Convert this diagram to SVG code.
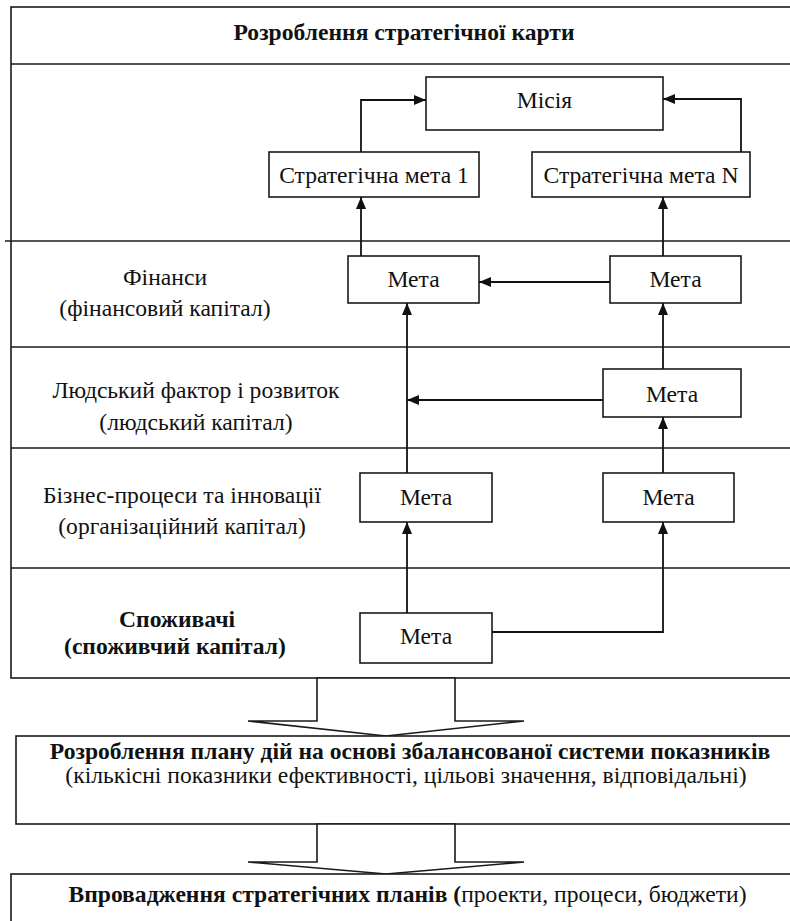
<svg xmlns="http://www.w3.org/2000/svg" width="790" height="921" viewBox="0 0 790 921" font-family="'Liberation Serif', 'DejaVu Serif', serif">
<defs>
<marker id="ah" viewBox="0 0 12 10" refX="12" refY="5" markerWidth="12" markerHeight="10" markerUnits="userSpaceOnUse" orient="auto">
<path d="M0,0 L12,5 L0,10 Z" fill="#111"/>
</marker>
<style>
.ln{fill:none;stroke:#1a1a1a;stroke-width:1.6}
.bx{fill:#fff;stroke:#1a1a1a;stroke-width:1.6}
.t{font-family:'Liberation Serif','DejaVu Serif',serif;font-size:23.6px;fill:#111;text-anchor:middle}
.b{font-weight:bold}
.c{fill:none;stroke:#111;stroke-width:1.8;marker-end:url(#ah)}
</style>
</defs>
<rect width="790" height="921" fill="#fff"/>

<g id="frame">
<rect class="ln" x="11" y="7" width="800" height="671"/>
<line class="ln" x1="11" y1="64" x2="800" y2="64"/>
<line class="ln" x1="5" y1="241" x2="800" y2="241"/>
<line class="ln" x1="11" y1="347" x2="800" y2="347"/>
<line class="ln" x1="11" y1="448" x2="800" y2="448"/>
<line class="ln" x1="11" y1="568" x2="800" y2="568"/>
<text class="t b" x="404" y="40">Розроблення стратегічної карти</text>
</g>

<g id="row-finance">
<text class="t" x="165" y="285">Фінанси</text>
<text class="t" x="165" y="316">(фінансовий капітал)</text>
</g>
<g id="row-human">
<text class="t" x="196" y="398">Людський фактор і розвиток</text>
<text class="t" x="196" y="430">(людський капітал)</text>
</g>
<g id="row-business">
<text class="t" x="182" y="503">Бізнес-процеси та інновації</text>
<text class="t" x="182" y="534">(організаційний капітал)</text>
</g>
<g id="row-consumers">
<text class="t b" x="177" y="627">Споживачі</text>
<text class="t b" x="175" y="654">(споживчий капітал)</text>
</g>

<g id="mission">
<rect class="bx" x="426" y="77" width="237" height="53"/>
<text class="t" x="544.5" y="108">Місія</text>
</g>
<g id="goal1">
<rect class="bx" x="269" y="152" width="210" height="45"/>
<text class="t" x="374" y="183">Стратегічна мета 1</text>
</g>
<g id="goalN">
<rect class="bx" x="532" y="152" width="218" height="45"/>
<text class="t" x="641" y="183">Стратегічна мета N</text>
</g>
<g id="fin-goal-left">
<rect class="bx" x="348" y="256" width="131" height="47"/>
<text class="t" x="413.5" y="287">Мета</text>
</g>
<g id="fin-goal-right">
<rect class="bx" x="610" y="256" width="131" height="47"/>
<text class="t" x="675.5" y="287">Мета</text>
</g>
<g id="human-goal">
<rect class="bx" x="603" y="369" width="138" height="48"/>
<text class="t" x="672" y="402">Мета</text>
</g>
<g id="biz-goal-left">
<rect class="bx" x="360" y="473" width="132" height="49"/>
<text class="t" x="426" y="505">Мета</text>
</g>
<g id="biz-goal-right">
<rect class="bx" x="603" y="473" width="131" height="49"/>
<text class="t" x="668.5" y="505">Мета</text>
</g>
<g id="cons-goal">
<rect class="bx" x="360" y="613" width="132" height="50"/>
<text class="t" x="426" y="644">Мета</text>
</g>

<g id="connectors">
<polyline class="c" points="361,152 361,100 426,100"/>
<polyline class="c" points="741,152 741,99 663,99"/>
<line class="c" x1="361" y1="256" x2="361" y2="197"/>
<line class="c" x1="663" y1="256" x2="663" y2="197"/>
<line class="c" x1="610" y1="282" x2="479" y2="282"/>
<line class="c" x1="663" y1="369" x2="663" y2="303"/>
<line class="c" x1="603" y1="400" x2="407" y2="400"/>
<line class="c" x1="407" y1="473" x2="407" y2="303"/>
<line class="c" x1="663" y1="473" x2="663" y2="417"/>
<line class="c" x1="407" y1="613" x2="407" y2="522"/>
<polyline class="c" points="492,632 663,632 663,522"/>
</g>

<g id="flow-arrow-1">
<polygon class="bx" points="317,678 455,678 455,721 524,721 386,736 248,721 317,721"/>
</g>

<g id="plan-box">
<rect class="bx" x="16" y="736" width="800" height="88"/>
<text class="t b" x="410" y="759">Розроблення плану дій на основі збалансованої системи показників</text>
<text class="t" x="406" y="783">(кількісні показники ефективності, цільові значення, відповідальні)</text>
</g>

<g id="flow-arrow-2">
<polygon class="bx" points="317,824 455,824 455,862 524,862 386,874 248,862 317,862"/>
</g>

<g id="implementation-box">
<rect class="bx" x="11" y="874" width="800" height="80"/>
<text class="t" x="407.5" y="902"><tspan class="b">Впровадження стратегічних планів (</tspan>проекти, процеси, бюджети)</text>
</g>
</svg>
